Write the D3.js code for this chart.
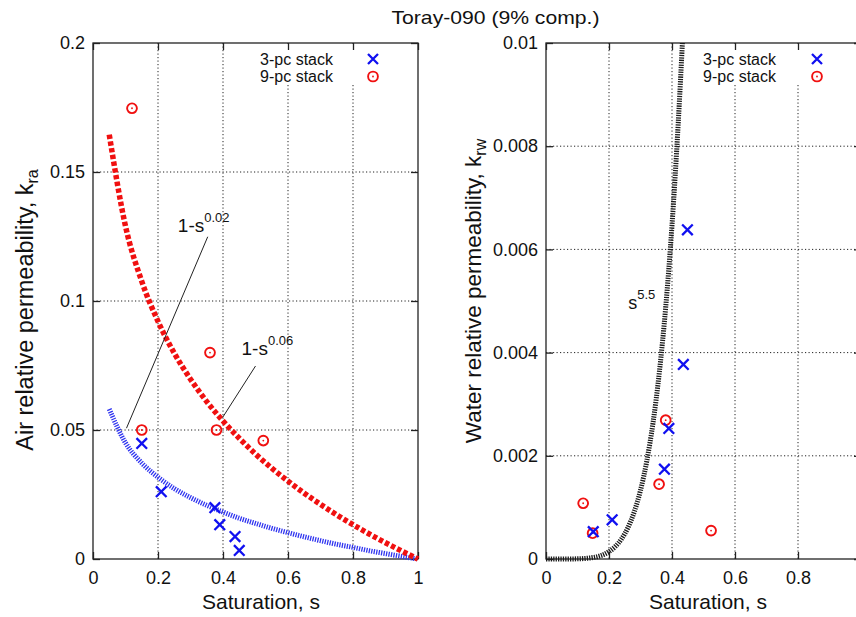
<!DOCTYPE html>
<meta charset="utf-8">
<head>
  <meta charset="utf-8">
  <script src="https://d3js.org/d3.v7.min.js"></script>
  <style>
    body { margin: 0; background: #fff; }
    text { font-family: "Liberation Sans", Arial, sans-serif; fill: #111; }
  </style>
</head>
<body>
<svg width="856" height="617"></svg>
<script>
// ---- data ----
var xTicks = [0, 0.2, 0.4, 0.6, 0.8, 1];
var xTickLabels = ["0", "0.2", "0.4", "0.6", "0.8", "1"];
var xTickLabelsRight = ["0", "0.2", "0.4", "0.6", "0.8", ""]; // "1" falls outside the picture
var airTicks = [0, 0.05, 0.1, 0.15, 0.2];
var airTickLabels = ["0", "0.05", "0.1", "0.15", "0.2"];
var waterTicks = [0, 0.002, 0.004, 0.006, 0.008, 0.01];
var waterTickLabels = ["0", "0.002", "0.004", "0.006", "0.008", "0.01"];

// air relative permeability, k_ra
var air3S = [0.15, 0.21, 0.375, 0.39, 0.437, 0.45];
var air3K = [0.0448, 0.0261, 0.0199, 0.0133, 0.0087, 0.0033];
var air9S = [0.12, 0.15, 0.36, 0.38, 0.524];
var air9K = [0.1747, 0.050, 0.080, 0.050, 0.0459];

// fitted curves on the left panel
var fitS = [0.05, 0.1, 0.15, 0.2, 0.25, 0.3, 0.35, 0.4, 0.45, 0.5, 0.55, 0.6, 0.65, 0.7, 0.75, 0.8, 0.85, 0.9, 0.95, 1];
var fitRed = [0.1645, 0.129, 0.1076, 0.0921, 0.0798, 0.0697, 0.061, 0.0535, 0.0468, 0.0407, 0.0352, 0.0302, 0.0255, 0.0212, 0.0171, 0.0133, 0.0097, 0.0063, 0.0031, 0];
var fitBlue = [0.0581, 0.045, 0.0372, 0.0317, 0.0273, 0.0238, 0.0208, 0.0182, 0.0158, 0.0138, 0.0119, 0.0102, 0.0086, 0.0071, 0.0057, 0.0045, 0.0032, 0.0021, 0.001, 0];

// water relative permeability, k_rw
var water3S = [0.15, 0.21, 0.376, 0.39, 0.436, 0.449];
var water3K = [0.00053, 0.00076, 0.00174, 0.00253, 0.00377, 0.00638];
var water9S = [0.118, 0.148, 0.359, 0.38, 0.524];
var water9K = [0.00108, 0.0005, 0.00145, 0.00269, 0.00055];

// s^5.5 curve on the right panel
var powS = [0, 0.05, 0.1, 0.15, 0.2, 0.22, 0.24, 0.26, 0.28, 0.3, 0.32, 0.34, 0.36, 0.38, 0.4, 0.42, 0.433];
var powK = [0, 0, 0.000003, 0.0000294, 0.000143, 0.000242, 0.00039, 0.000606, 0.000911, 0.00133, 0.0019, 0.00265, 0.00363, 0.00488, 0.00647, 0.00847, 0.01];

var svg = d3.select("svg");
svg.append("rect").attr("width", 856).attr("height", 617).attr("fill", "#fff");

var plotTop = 43, plotBottom = 559;

var xL = d3.scaleLinear().domain([0, 1]).range([93, 418]);
var yL = d3.scaleLinear().domain([0, 0.2]).range([plotBottom, plotTop]);
var xR = d3.scaleLinear().domain([0, 1]).range([546, 861]);
var yR = d3.scaleLinear().domain([0, 0.01]).range([plotBottom, plotTop]);

function zip(a, b) { return a.map(function(d, i) { return [d, b[i]]; }); }

function drawPanel(x, y, xLabels, yTicks, yLabels, legendLeft) {
  var g = svg.append("g");
  var x0 = x.range()[0], x1 = x.range()[1];

  // dotted grid
  g.selectAll(".gx").data(xTicks.slice(1, -1)).enter().append("line")
    .attr("x1", function(d) { return x(d); }).attr("x2", function(d) { return x(d); })
    .attr("y1", plotTop).attr("y2", plotBottom)
    .attr("stroke", "#222").attr("stroke-width", 1).attr("stroke-dasharray", "1.2,2.3");
  g.selectAll(".gy").data(yTicks.slice(1, -1)).enter().append("line")
    .attr("x1", x0).attr("x2", x1)
    .attr("y1", function(d) { return y(d); }).attr("y2", function(d) { return y(d); })
    .attr("stroke", "#222").attr("stroke-width", 1).attr("stroke-dasharray", "1.2,2.3");

  // legend box hides the grid behind it
  g.append("rect").attr("x", legendLeft).attr("y", plotTop + 1)
    .attr("width", 150).attr("height", 41).attr("fill", "#fff");

  // frame
  g.append("rect").attr("x", x0).attr("y", plotTop)
    .attr("width", x1 - x0).attr("height", plotBottom - plotTop)
    .attr("fill", "none").attr("stroke", "#222").attr("stroke-width", 1.3);

  // axes with inward ticks (mirrored on top/right)
  g.append("g").attr("transform", "translate(0," + plotBottom + ")")
    .call(d3.axisBottom(x).tickValues(xTicks).tickFormat(function(d, i) { return xLabels[i]; })
      .tickSizeInner(-7).tickSizeOuter(0).tickPadding(12));
  g.append("g").attr("transform", "translate(" + x0 + ",0)")
    .call(d3.axisLeft(y).tickValues(yTicks).tickFormat(function(d, i) { return yLabels[i]; })
      .tickSizeInner(-7).tickSizeOuter(0).tickPadding(8));
  g.append("g").attr("transform", "translate(0," + plotTop + ")")
    .call(d3.axisTop(x).tickValues(xTicks).tickFormat("").tickSizeInner(-7).tickSizeOuter(0));
  g.append("g").attr("transform", "translate(" + x1 + ",0)")
    .call(d3.axisRight(y).tickValues(yTicks).tickFormat("").tickSizeInner(-7).tickSizeOuter(0));
  g.selectAll(".domain").remove();
  g.selectAll(".tick line").attr("stroke", "#222").attr("stroke-width", 1.3);
  g.selectAll(".tick text").attr("font-size", 18).attr("fill", "#111")
    .attr("font-family", "Liberation Sans, Arial, sans-serif");
  return g;
}

function drawCross(g, pts, x, y) {
  g.selectAll(null).data(pts).enter().append("path")
    .attr("transform", function(d) { return "translate(" + x(d[0]) + "," + y(d[1]) + ")"; })
    .attr("d", "M-5.3,-5.3L5.3,5.3M-5.3,5.3L5.3,-5.3")
    .attr("stroke", "#1010f0").attr("stroke-width", 2.3).attr("fill", "none");
}
function drawRing(g, pts, x, y) {
  var p = g.selectAll(null).data(pts).enter().append("g")
    .attr("transform", function(d) { return "translate(" + x(d[0]) + "," + y(d[1]) + ")"; });
  p.append("circle").attr("r", 4.9).attr("fill", "none").attr("stroke", "#f01010").attr("stroke-width", 1.9);
  p.append("circle").attr("r", 0.9).attr("fill", "#f01010");
}

function drawLegend(g, textRight, markX) {
  g.append("text").attr("x", textRight).attr("y", 65).attr("text-anchor", "end")
    .attr("font-size", 16).text("3-pc stack");
  g.append("text").attr("x", textRight).attr("y", 82).attr("text-anchor", "end")
    .attr("font-size", 16).text("9-pc stack");
  g.append("path").attr("transform", "translate(" + markX + ",59)")
    .attr("d", "M-5,-5L5,5M-5,5L5,-5")
    .attr("stroke", "#1010f0").attr("stroke-width", 2.3).attr("fill", "none");
  g.append("circle").attr("cx", markX).attr("cy", 76.5).attr("r", 4.9)
    .attr("fill", "none").attr("stroke", "#f01010").attr("stroke-width", 1.9);
  g.append("circle").attr("cx", markX).attr("cy", 76.5).attr("r", 0.9).attr("fill", "#f01010");
}

// ---------- left panel ----------
var gl = drawPanel(xL, yL, xTickLabels, airTicks, airTickLabels, 250);
var lineL = d3.line().x(function(d) { return xL(d[0]); }).y(function(d) { return yL(d[1]); }).curve(d3.curveMonotoneX);

gl.append("path").datum(zip(fitS, fitBlue)).attr("d", lineL)
  .attr("fill", "none").attr("stroke", "#3035f0").attr("stroke-width", 5).attr("stroke-dasharray", "1.3,1.2");
gl.append("path").datum(zip(fitS, fitRed)).attr("d", lineL)
  .attr("fill", "none").attr("stroke", "#f01010").attr("stroke-width", 5.5).attr("stroke-dasharray", "4.4,2.4");

// annotation leaders
gl.append("line").attr("x1", xL(0.353)).attr("y1", yL(0.1249)).attr("x2", xL(0.103)).attr("y2", yL(0.0507))
  .attr("stroke", "#222").attr("stroke-width", 1);
gl.append("line").attr("x1", xL(0.50)).attr("y1", yL(0.0748)).attr("x2", xL(0.399)).attr("y2", yL(0.0549))
  .attr("stroke", "#222").attr("stroke-width", 1);

var t1 = gl.append("text").attr("x", xL(0.261)).attr("y", yL(0.1269)).attr("font-size", 19);
t1.append("tspan").text("1-s");
t1.append("tspan").attr("dy", -10).attr("font-size", 13).text("0.02");
var t2 = gl.append("text").attr("x", xL(0.457)).attr("y", yL(0.0791)).attr("font-size", 19);
t2.append("tspan").text("1-s");
t2.append("tspan").attr("dy", -10).attr("font-size", 13).text("0.06");

drawRing(gl, zip(air9S, air9K), xL, yL);
drawCross(gl, zip(air3S, air3K), xL, yL);
drawLegend(gl, 333, 373);

// ---------- right panel ----------
var gr = drawPanel(xR, yR, xTickLabelsRight, waterTicks, waterTickLabels, 695);
var lineR = d3.line().x(function(d) { return xR(d[0]); }).y(function(d) { return yR(d[1]); }).curve(d3.curveMonotoneX);

gr.append("path").datum(zip(powS, powK)).attr("d", lineR)
  .attr("fill", "none").attr("stroke", "#1a1a1a").attr("stroke-width", 5).attr("stroke-dasharray", "1.3,1.1");

var t3 = gr.append("text").attr("x", xR(0.261)).attr("y", yR(0.00484)).attr("font-size", 18);
t3.append("tspan").text("s");
t3.append("tspan").attr("dy", -10).attr("font-size", 13).text("5.5");

drawRing(gr, zip(water9S, water9K), xR, yR);
drawCross(gr, zip(water3S, water3K), xR, yR);
drawLegend(gr, 776, 817);

// ---------- titles / axis labels ----------
svg.append("text").attr("x", 495.5).attr("y", 24).attr("text-anchor", "middle")
  .attr("font-size", 19).attr("textLength", 208).attr("lengthAdjust", "spacingAndGlyphs")
  .text("Toray-090 (9% comp.)");

svg.append("text").attr("x", 261).attr("y", 609).attr("text-anchor", "middle")
  .attr("font-size", 21).text("Saturation, s");
svg.append("text").attr("x", 708).attr("y", 609).attr("text-anchor", "middle")
  .attr("font-size", 21).text("Saturation, s");

var yl = svg.append("text").attr("transform", "translate(33,310) rotate(-90)")
  .attr("text-anchor", "middle").attr("font-size", 23.5);
yl.append("tspan").text("Air relative permeability, k");
yl.append("tspan").attr("dy", 5).attr("font-size", 16).text("ra");

var yr = svg.append("text").attr("transform", "translate(481,291) rotate(-90)")
  .attr("text-anchor", "middle").attr("font-size", 22.5);
yr.append("tspan").text("Water relative permeability, k");
yr.append("tspan").attr("dy", 5).attr("font-size", 16).text("rw");
</script>
</body>
